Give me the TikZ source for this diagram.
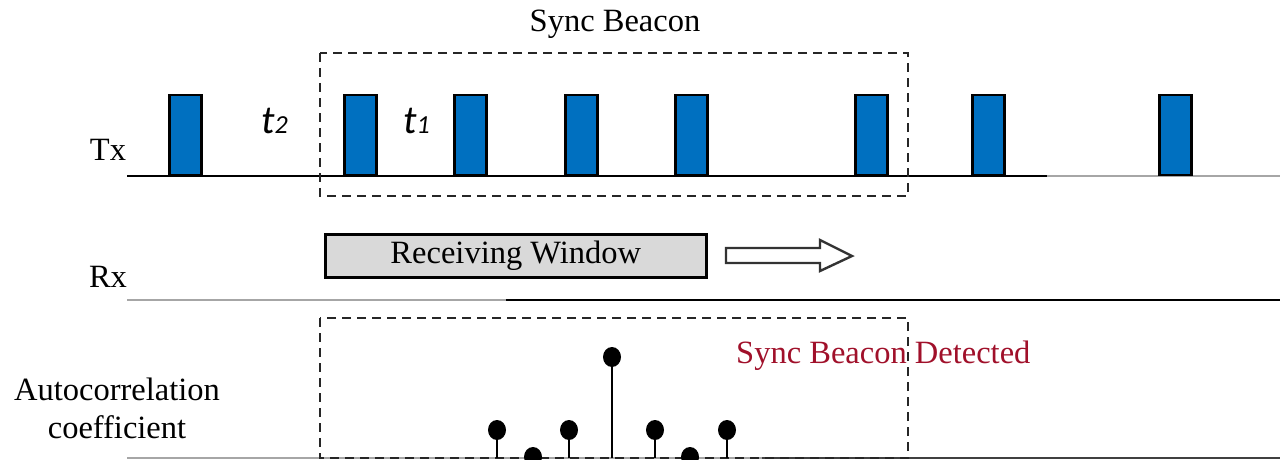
\documentclass[tikz,border=0pt]{standalone}
\usepackage{fontspec}
\usetikzlibrary{shapes.geometric}
\setmainfont{Liberation Serif}
\newfontfamily\tfont{Carlito}
\definecolor{pulseblue}{HTML}{0070C0}
\definecolor{detred}{HTML}{A0102A}
\definecolor{wingray}{HTML}{D9D9D9}
\definecolor{lightline}{HTML}{A6A6A6}
\begin{document}
\begin{tikzpicture}[x=1pt,y=-1pt,
  lbl/.style={inner sep=0pt, anchor=base, font=\fontsize{32.5}{38}\selectfont},
  pulse/.style={draw=black, line width=2.5pt, fill=pulseblue, minimum width=32pt,
                minimum height=80pt, inner sep=0pt, anchor=south west},
  frame/.style={draw=black!85, line width=2.5pt, dash pattern=on 9pt off 6pt},
  axis/.style={line width=2.4pt, draw=black},
  faint/.style={line width=2.4pt, draw=lightline},
  stem/.style={line width=2.4pt, draw=black},
  dot/.style={ellipse, fill=black, inner sep=0pt, minimum width=18pt, minimum height=20pt},
  tlabel/.style={inner sep=0pt, anchor=base west, font=\tfont\itshape\fontsize{40}{40}\selectfont}]
\useasboundingbox (0,0) rectangle (1280,460);
\clip (0,0) rectangle (1280,460);

% Tx row
\node[lbl] (tx) at (108,160) {Tx};
\coordinate (txa) at (127,176);
\coordinate (txb) at (1047,176);
\coordinate (txc) at (1280,176);
\draw[faint] (txb) -- (txc);
\draw[axis] (txa) -- (txb);
\foreach \x/\n in {168/p1,343/p2,453/p3,564/p4,674/p5,854/p6,971/p7,1158/p8}
  \node[pulse] (\n) at (\x,176) {};

\node[tlabel] (t2) at (261,133) {t\fontsize{26}{26}\selectfont 2};
\node[tlabel] (t1) at (403,133) {t\fontsize{26}{26}\selectfont 1};

% sync beacon frame
\node[lbl] (sb) at (615,32) {Sync Beacon};
\coordinate (sba) at (320,53);
\coordinate (sbb) at (908,196);
\draw[frame] (sba) rectangle (sbb);

% Rx row
\node[lbl] (rx) at (108,287) {Rx};
\coordinate (rxa) at (127,300);
\coordinate (rxb) at (506,300);
\coordinate (rxc) at (1280,300);
\draw[faint] (rxa) -- (rxb);
\draw[axis] (rxb) -- (rxc);
\node[draw=black, line width=2.5pt, fill=wingray, minimum width=381pt, minimum height=43pt,
      inner sep=0pt, anchor=north west, font=\fontsize{32.5}{38}\selectfont] (rw)
      at (324,233) {Receiving Window};
\draw[line width=2.4pt, draw=black!80, fill=white, line join=miter]
  (726,248) -- (820,248) -- (820,240) -- (852,256) -- (820,271) -- (820,263) -- (726,263) -- cycle;

% autocorrelation row
\node[lbl] (ac) at (117,400) {Autocorrelation};
\node[lbl] (co) at (117,438) {coefficient};
\coordinate (aca) at (127,458);
\coordinate (acb) at (762,458);
\coordinate (acc) at (1280,458);
\draw[faint] (aca) -- (acb);
\draw[axis, draw=black!75] (acb) -- (acc);
\coordinate (dta) at (320,318);
\coordinate (dtb) at (908,458);
\draw[frame] (dta) rectangle (dtb);

\foreach \x/\y/\n in {497/430/s1,533/457/s2,569/430/s3,612/357/s4,655/430/s5,690/457/s6,727/430/s7}{
  \coordinate (\n b) at (\x,458);
  \node[dot] (\n) at (\x,\y) {};
  \draw[stem] (\n b) -- (\n);
}

\node[lbl, anchor=base west, text=detred] (det) at (736,363) {Sync Beacon Detected};
\end{tikzpicture}
\end{document}
